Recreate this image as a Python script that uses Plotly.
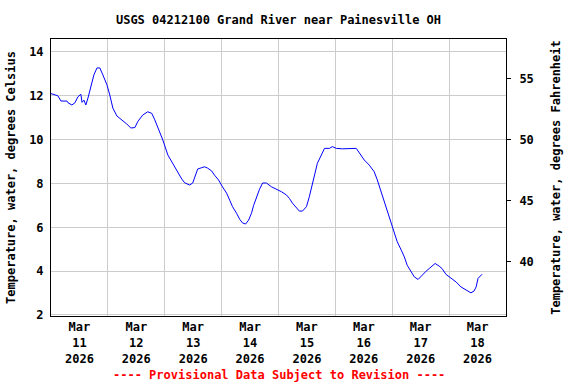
import plotly.graph_objects as go
import pandas as pd

# Hours since 2026-03-11 00:00 and water temperature (deg C)
hours = [0, 2.9, 4.2, 6.7, 7.2, 8.8, 10.1, 11.4, 12.6, 13.1, 13.9, 14.7, 15.6, 16.4, 17.3,
         18.1, 19.4, 20.6, 21.9, 23.6, 24.8, 26.1, 27.8, 29.9, 32.0, 33.7, 35.4, 36.6, 38.7,
         40.8, 42.5, 43.8, 45.0, 47.2, 49.3, 50.9, 52.2, 53.5, 55.2, 56.4, 58.5, 59.8, 61.0,
         61.9, 63.6, 64.8, 66.1, 67.8, 69.0, 70.7, 72.4, 74.1, 75.4, 76.6, 78.3, 79.6, 80.8,
         82.1, 83.4, 84.6, 85.5, 86.7, 88.0, 89.3, 90.9, 93.0, 95.1, 97.3, 99.4, 100.6, 101.9,
         103.6, 104.8, 106.1, 107.8, 109.0, 110.3, 111.1, 112.4, 114.1, 115.4, 117.5, 118.7,
         120.4, 122.9, 128.8, 130.1, 132.2, 134.3, 136.4, 137.7, 139.3, 140.6, 142.3, 143.6,
         144.8, 146.1, 147.8, 149.1, 150.3, 152.0, 153.3, 154.9, 156.6, 158.3, 159.6, 160.8,
         162.1, 163.8, 165.0, 166.7, 168.8, 170.9, 173.0, 175.1, 177.2, 178.5, 179.4, 180.2, 181.9]
temp_c = [12.1, 12.0, 11.76, 11.76, 11.68, 11.58, 11.68, 11.96, 12.07, 11.7, 11.8, 11.58, 11.9,
          12.26, 12.72, 12.95, 13.27, 13.27, 12.95, 12.5, 12.04, 11.44, 11.08, 10.9, 10.71, 10.53,
          10.55, 10.82, 11.12, 11.27, 11.2, 10.9, 10.59, 9.98, 9.3, 8.99, 8.76, 8.47, 8.2, 8.03,
          7.93, 8.02, 8.38, 8.66, 8.72, 8.76, 8.7, 8.57, 8.38, 8.16, 7.84, 7.56, 7.24, 6.94, 6.64,
          6.37, 6.2, 6.15, 6.33, 6.64, 7.0, 7.39, 7.74, 8.02, 8.02, 7.85, 7.74, 7.62, 7.47, 7.32,
          7.1, 6.88, 6.74, 6.74, 6.94, 7.39, 8.0, 8.46, 8.92, 9.3, 9.6, 9.6, 9.68, 9.6, 9.58, 9.6,
          9.38, 9.07, 8.84, 8.53, 8.16, 7.62, 7.25, 6.71, 6.25, 5.8, 5.34, 4.96, 4.65, 4.27, 3.97,
          3.74, 3.62, 3.82, 4.0, 4.12, 4.23, 4.35, 4.23, 4.12, 3.85, 3.67, 3.51, 3.28, 3.13, 3.01,
          3.09, 3.28, 3.67, 3.86]

c_ticks = [2, 4, 6, 8, 10, 12, 14]
f_ticks = [40, 45, 50, 55]
c_range = [1.954, 14.59]

title_text = "USGS 04212100 Grand River near Painesville OH"
left_title = "Temperature, water, degrees Celsius"
right_title = "Temperature, water, degrees Fahrenheit"
note_text = "---- Provisional Data Subject to Revision ----"

start = pd.Timestamp("2026-03-11 00:00")
times = [start + pd.Timedelta(hours=h) for h in hours]
temp_f = [c * 1.8 + 32 for c in temp_c]

FONT = "DejaVu Sans Mono"
BOLD = dict(family=FONT, size=12, color="black", weight="bold")

fig = go.Figure()
fig.add_trace(go.Scatter(x=times, y=temp_c, mode="lines",
                         line=dict(color="#0000FF", width=1), showlegend=False))
fig.add_trace(go.Scatter(x=times, y=temp_f, mode="lines", yaxis="y2",
                         line=dict(color="rgba(0,0,0,0)", width=0), showlegend=False,
                         hoverinfo="skip"))

fig.update_layout(
    width=576, height=384,
    margin=dict(l=51, r=70, t=39, b=68),
    paper_bgcolor="white", plot_bgcolor="white",
    font=BOLD,
    title=dict(text=title_text, x=0.5, xref="paper", y=1 - 20 / 384, yref="container",
               yanchor="middle", xanchor="center", font=BOLD),
    xaxis=dict(
        type="date",
        range=[start, start + pd.Timedelta(days=8)],
        tick0=start, dtick=86400000,
        ticklabelmode="period",
        tickformat="%b<br>%d<br>%Y",
        showgrid=True, gridcolor="#cccccc", gridwidth=1,
        showline=True, linecolor="black", linewidth=1, mirror=True,
        ticks="", zeroline=False, tickfont=BOLD,
    ),
    yaxis=dict(
        range=c_range, tickvals=c_ticks,
        showgrid=True, gridcolor="#cccccc", gridwidth=1,
        showline=True, linecolor="black", linewidth=1, mirror=True,
        ticks="", zeroline=False, ticklabelstandoff=4,
        title=dict(text=left_title, standoff=10, font=BOLD),
        tickfont=BOLD,
    ),
    yaxis2=dict(
        overlaying="y", side="right",
        range=[c_range[0] * 1.8 + 32, c_range[1] * 1.8 + 32], tickvals=f_ticks,
        showgrid=False, zeroline=False,
        ticks="outside", ticklen=4, tickcolor="black",
        ticklabelstandoff=6,
        title=dict(text=right_title, standoff=18, font=BOLD),
        tickfont=BOLD,
    ),
    annotations=[dict(text=note_text, xref="paper", yref="paper", x=0.5,
                      y=-(375 - 316) / 277, showarrow=False,
                      xanchor="center", yanchor="middle",
                      font=dict(family=FONT, size=12, color="red", weight="bold"))],
)

fig.write_html("out.html", config={"displayModeBar": False},
               post_script="document.body.style.margin='0';")
